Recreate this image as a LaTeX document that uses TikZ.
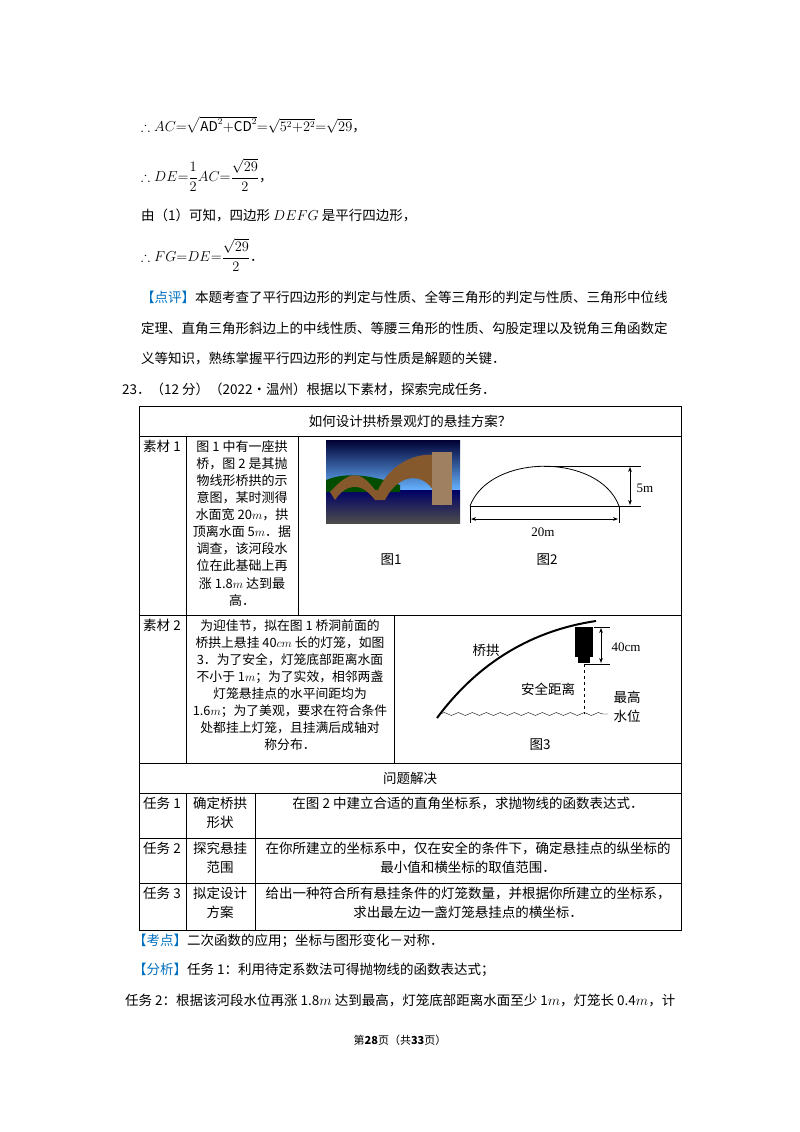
\documentclass[tikz,border=0pt]{standalone}
\usepackage{amsmath,amssymb}
\usepackage{fontspec}
\setmainfont{Noto Sans CJK SC}
\newfontfamily\tnr{Liberation Serif}
\usetikzlibrary{arrows.meta,decorations.pathmorphing}
\definecolor{kblue}{RGB}{0,112,192}
\tikzset{
 txt/.style={anchor=west,inner sep=0pt,font=\fontsize{13.5}{16}\selectfont},
 cell/.style={inner sep=0pt,align=center,font=\fontsize{13.5}{18.9}\selectfont},
 grid/.style={line width=0.8pt},
 dim/.style={-{Stealth[length=5pt]},line width=0.8pt}
}
\begin{document}
\begin{tikzpicture}[x=1pt,y=-1pt]
\useasboundingbox (0,0) rectangle (800,1132);
\fill[white] (0,0) rectangle (800,1132);
% top formulas
\node[txt] (l1) at (141,125) {$\therefore AC{=}\sqrt{\mathrm{AD}^2{+}\mathrm{CD}^2}{=}\sqrt{5^2{+}2^2}{=}\sqrt{29}$，};
\node[txt] (l2) at (141,175) {$\therefore DE{=}\dfrac{1}{2}AC{=}\dfrac{\sqrt{29}}{2}$，};
\node[txt] (l3) at (141,215) {由（1）可知，四边形 $DEFG$ 是平行四边形，};
\node[txt] (l4) at (141,255) {$\therefore FG{=}DE{=}\dfrac{\sqrt{29}}{2}$．};
\node[txt] (p1) at (141,297) {\textcolor{kblue}{【点评】}本题考查了平行四边形的判定与性质、全等三角形的判定与性质、三角形中位线};
\node[txt] (p2) at (141,328) {定理、直角三角形斜边上的中线性质、等腰三角形的性质、勾股定理以及锐角三角函数定};
\node[txt] (p3) at (141,359) {义等知识，熟练掌握平行四边形的判定与性质是解题的关键．};
\node[txt] (q) at (122,389) {23．（12 分）（2022•温州）根据以下素材，探索完成任务．};
% table grid
\draw[grid] (139,406) rectangle (681,930);
\draw[grid] (139,436) -- (681,436);
\draw[grid] (139,615) -- (681,615);
\draw[grid] (139,763) -- (681,763);
\draw[grid] (139,793) -- (681,793);
\draw[grid] (139,838) -- (681,838);
\draw[grid] (139,883) -- (681,883);
\draw[grid] (186,436) -- (186,763);
\draw[grid] (298,436) -- (298,615);
\draw[grid] (394,615) -- (394,763);
\draw[grid] (186,793) -- (186,930);
\draw[grid] (255,793) -- (255,930);
\node[cell] (h1) at (410,421) {如何设计拱桥景观灯的悬挂方案？};
\node[cell,anchor=north] (s1) at (162,440) {素材 1};
\node[cell,anchor=north,font=\fontsize{13}{17.1}\selectfont] (t1) at (242,440) {图 1 中有一座拱\\桥，图 2 是其抛\\物线形桥拱的示\\意图，某时测得\\水面宽 20$m$，拱\\顶离水面 5$m$．据\\调查，该河段水\\位在此基础上再\\涨 1.8$m$ 达到最\\高．};
\node[cell,anchor=north] (s2) at (162,619) {素材 2};
\node[cell,anchor=north,font=\fontsize{12.8}{17}\selectfont] (t2) at (290,619) {为迎佳节，拟在图 1 桥洞前面的\\桥拱上悬挂 40$cm$ 长的灯笼，如图\\3．为了安全，灯笼底部距离水面\\不小于 1$m$；为了实效，相邻两盏\\灯笼悬挂点的水平间距均为\\1.6$m$；为了美观，要求在符合条件\\处都挂上灯笼，且挂满后成轴对\\称分布．};
\node[cell] (h2) at (410,778) {问题解决};
\node[cell,anchor=north] (r1a) at (162,797) {任务 1};
\node[cell,anchor=north] (r1b) at (220,797) {确定桥拱\\形状};
\node[cell,anchor=north] (r1c) at (468,797) {在图 2 中建立合适的直角坐标系，求抛物线的函数表达式．};
\node[cell,anchor=north] (r2a) at (162,842) {任务 2};
\node[cell,anchor=north] (r2b) at (220,842) {探究悬挂\\范围};
\node[cell,anchor=north] (r2c) at (468,842) {在你所建立的坐标系中，仅在安全的条件下，确定悬挂点的纵坐标的\\最小值和横坐标的取值范围．};
\node[cell,anchor=north] (r3a) at (162,887) {任务 3};
\node[cell,anchor=north] (r3b) at (220,887) {拟定设计\\方案};
\node[cell,anchor=north] (r3c) at (468,887) {给出一种符合所有悬挂条件的灯笼数量，并根据你所建立的坐标系，\\求出最左边一盏灯笼悬挂点的横坐标．};
% photo
\shade[top color=black!80!blue,bottom color=blue!50!cyan!60] (326,440) rectangle (460,490);
\shade[top color=blue!40!black,bottom color=black!70] (326,490) rectangle (460,523);
\fill[black!70!green] (326,480) .. controls (350,470) and (380,478) .. (400,485) -- (400,492) -- (326,492) -- cycle;
\fill[brown!70!black] (330,492) .. controls (350,470) and (360,470) .. (375,490) -- (378,490) .. controls (395,455) and (430,450) .. (445,458) -- (445,505) -- (440,505) .. controls (430,470) and (400,470) .. (385,500) -- (375,500) .. controls (360,480) and (345,485) .. (335,500) -- cycle;
\fill[brown!50!gray] (432,452) rectangle (452,505);
% fig2
\coordinate (aL) at (470,506);
\coordinate (aR) at (619,506);
\draw[line width=0.8pt] (aL) .. controls (490,453) and (599,453) .. (aR);
\draw[line width=0.8pt] (544,466) -- (641,466);
\draw[line width=0.8pt] (aL) -- (641,506);
\draw[dim,{Stealth[length=5pt]}-{Stealth[length=5pt]}] (630,467) -- (630,505);
\node[font=\tnr\fontsize{13}{13}\selectfont] (f5) at (645,488) {5m};
\draw[line width=0.8pt] (470,506) -- (470,523);
\draw[line width=0.8pt] (619,506) -- (619,523);
\draw[dim,{Stealth[length=5pt]}-{Stealth[length=5pt]}] (471,519) -- (618,519);
\node[font=\tnr\fontsize{13}{13}\selectfont] (f20) at (543,532) {20m};
\node[cell] (c1) at (391,560) {图1};
\node[cell] (c2) at (547,560) {图2};
% fig3
\draw[line width=2pt] (437,718) .. controls (480,660) and (535,630) .. (596,621);
\fill[black] (575,627) rectangle (593,657);
\fill[black] (578,655) rectangle (590,663);
\draw[line width=0.8pt] (594,627) -- (610,627);
\draw[line width=0.8pt] (584,664) -- (610,664);
\draw[dim,{Stealth[length=5pt]}-{Stealth[length=5pt]}] (601,628) -- (601,663);
\node[font=\tnr\fontsize{13}{13}\selectfont] (f40) at (626,647) {40cm};
\draw[dashed,line width=0.8pt] (584,664) -- (584,714);
\draw[decorate,decoration={snake,amplitude=1.5pt,segment length=14pt}] (440,714) -- (608,714);
\node[cell] (qg) at (486,650) {桥拱};
\node[cell] (aq) at (548,689) {安全距离};
\node[cell] (zg) at (627,697) {最高};
\node[cell] (sw) at (627,716) {水位};
\node[cell] (c3) at (540,745) {图3};
% bottom
\node[txt] (k) at (133,941) {\textcolor{kblue}{【考点】}二次函数的应用；坐标与图形变化－对称．};
\node[txt] (fx) at (133,970) {\textcolor{kblue}{【分析】}任务 1：利用待定系数法可得抛物线的函数表达式；};
\node[txt] (fx2) at (125,1000) {任务 2：根据该河段水位再涨 1.8$m$ 达到最高，灯笼底部距离水面至少 1$m$，灯笼长 0.4$m$，计};
\node[font=\fontsize{11}{11}\selectfont] (ft) at (400,1040) {第\textbf{28}页（共\textbf{33}页）};
\end{tikzpicture}
\end{document}
